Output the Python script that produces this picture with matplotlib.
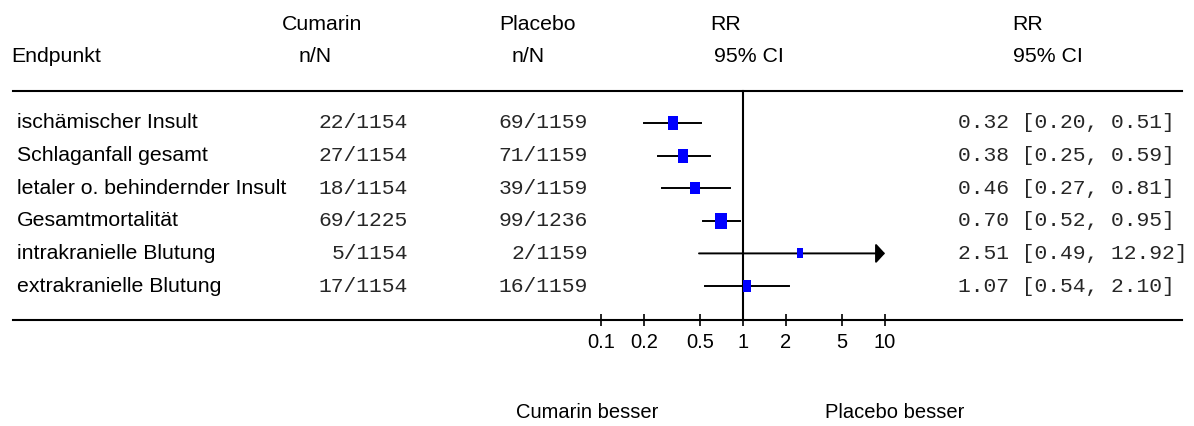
import numpy as np
import matplotlib
matplotlib.use("Agg")
import matplotlib.pyplot as plt
from matplotlib.path import Path
from matplotlib.transforms import blended_transform_factory

# Daten
endpunkte = ["ischämischer Insult", "Schlaganfall gesamt", "letaler o. behindernder Insult",
             "Gesamtmortalität", "intrakranielle Blutung", "extrakranielle Blutung"]
cum_n = [22, 27, 18, 69, 5, 17]
cum_N = [1154, 1154, 1154, 1225, 1154, 1154]
pla_n = [69, 71, 39, 99, 2, 16]
pla_N = [1159, 1159, 1159, 1236, 1159, 1159]
rr = [0.32, 0.38, 0.46, 0.70, 2.51, 1.07]
rr_lo = [0.20, 0.25, 0.27, 0.52, 0.49, 0.54]
rr_hi = [0.51, 0.59, 0.81, 0.95, 12.92, 2.10]
ticks = [0.1, 0.2, 0.5, 1, 2, 5, 10]
tick_labels = ["0.1", "0.2", "0.5", "1", "2", "5", "10"]
x_max = 10  # rechter Rand der Skala, darueber Pfeil

W, H = 1194, 426


def fx(px):
    return px / W


def fy(py):
    return 1 - py / H


def main():
    plt.rcParams['font.family'] = ['Liberation Sans', 'DejaVu Sans']
    fig = plt.figure(figsize=(W / 100, H / 100), dpi=100)
    ax = fig.add_axes([0, 0, 1, 1])
    ax.set_xscale('log')
    # 142 px pro Dekade, 1 bei x=743
    ax.set_xlim(10 ** ((0 - 743) / 142), 10 ** ((W - 743) / 142))
    # Zeilen: Pixel = 123 + 32.6 * i
    ax.set_ylim((H - 123) / 32.6, -123 / 32.6)
    y_top = (91 - 123) / 32.6
    y_bot = (320 - 123) / 32.6
    row_tr = blended_transform_factory(ax.transAxes, ax.transData)

    for s in ['top', 'left', 'right']:
        ax.spines[s].set_visible(False)
    ax.spines['bottom'].set_position(('data', y_bot))
    ax.spines['bottom'].set_bounds(10 ** ((12.5 - 743) / 142), 10 ** ((1182 - 743) / 142))
    ax.spines['bottom'].set_linewidth(1.5)
    ax.set_yticks([])
    ax.set_xticks(ticks)
    ax.set_xticklabels(tick_labels)
    ax.minorticks_off()
    ax.tick_params(axis='x', direction='inout', length=8.5, width=1.2, pad=5, labelsize=14.5)

    # obere Linie und Nulllinie
    ax.axhline(y_top, xmin=fx(12.5), xmax=fx(1182), color='black', lw=1.5)
    ax.plot([1, 1], [y_top, y_bot], color='black', lw=1.5)

    # Kopfzeilen
    sans = 15.3
    ax.text(fx(11.7), fy(57), "Endpunkt", transform=ax.transAxes, fontsize=sans, va='center')
    ax.text(fx(282), fy(24), "Cumarin", transform=ax.transAxes, fontsize=sans, va='center')
    ax.text(fx(299), fy(57), "n/N", transform=ax.transAxes, fontsize=sans, va='center')
    ax.text(fx(499.5), fy(24), "Placebo", transform=ax.transAxes, fontsize=sans, va='center')
    ax.text(fx(511.5), fy(57), "n/N", transform=ax.transAxes, fontsize=sans, va='center')
    ax.text(fx(710), fy(24), "RR", transform=ax.transAxes, fontsize=sans, va='center')
    ax.text(fx(714), fy(57), "95% CI", transform=ax.transAxes, fontsize=sans, va='center')
    ax.text(fx(1012.5), fy(24), "RR", transform=ax.transAxes, fontsize=sans, va='center')
    ax.text(fx(1013), fy(57), "95% CI", transform=ax.transAxes, fontsize=sans, va='center')

    # Zeilen
    se = (np.log(rr_hi) - np.log(rr_lo)) / 3.92
    msize = 11.2 * (se.min() / se) ** 0.32
    box = Path([(-0.36, -0.5), (0.36, -0.5), (0.36, 0.5), (-0.36, 0.5), (-0.36, -0.5)],
               [Path.MOVETO, Path.LINETO, Path.LINETO, Path.LINETO, Path.CLOSEPOLY])
    mono = ['Liberation Mono', 'DejaVu Sans Mono']
    mono_col = '#262626'
    for i, name in enumerate(endpunkte):
        ax.text(fx(17), i, name, fontsize=sans, va='center', ha='left', transform=row_tr)
        ax.text(fx(408), i, f"{cum_n[i]}/{cum_N[i]}", fontsize=15.3, family=mono, color=mono_col,
                va='center', ha='right', transform=row_tr)
        ax.text(fx(588), i, f"{pla_n[i]}/{pla_N[i]}", fontsize=15.3, family=mono, color=mono_col,
                va='center', ha='right', transform=row_tr)
        ax.text(fx(958), i, f"{rr[i]:.2f} [{rr_lo[i]:.2f}, {rr_hi[i]:.2f}]", fontsize=15.3, family=mono,
                color=mono_col, va='center', ha='left', transform=row_tr)
        if rr_hi[i] > x_max:
            ax.annotate('', xy=(x_max, i), xytext=(rr_lo[i], i),
                        arrowprops=dict(arrowstyle='-|>,head_length=0.55,head_width=0.6',
                                        color='black', lw=1.4, shrinkA=0, shrinkB=0, mutation_scale=10))
        else:
            ax.plot([rr_lo[i], rr_hi[i]], [i, i], color='black', lw=1.4)
        ax.plot(rr[i], i, marker=box, markersize=msize[i], color='#0000ff', markeredgewidth=0, zorder=5)

    ax.text(fx(587), fy(413), "Cumarin besser", transform=ax.transAxes, fontsize=14.5, va='center', ha='center')
    ax.text(fx(895), fy(413), "Placebo besser", transform=ax.transAxes, fontsize=14.5, va='center', ha='center')

    fig.savefig("out.png", dpi=100)


if __name__ == '__main__':
    main()
